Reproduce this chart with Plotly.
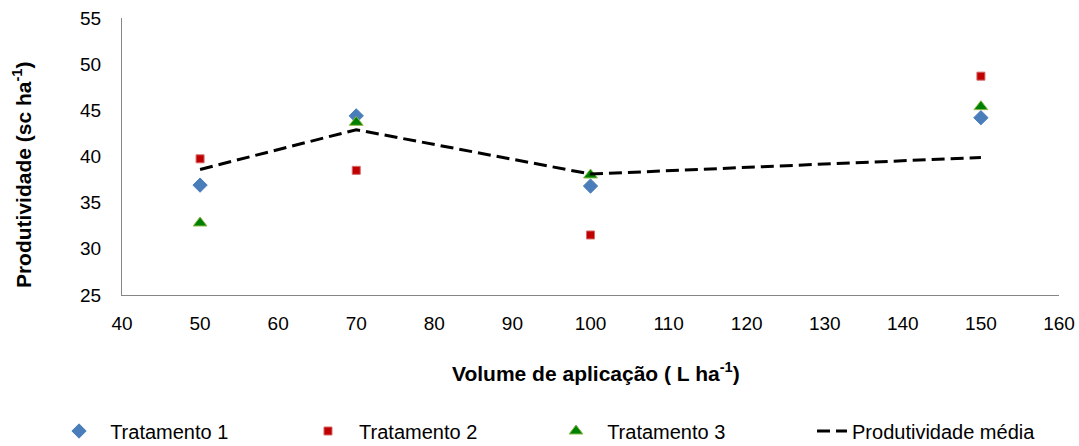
import plotly.graph_objects as go

volumes = [50, 70, 100, 150]
trat1 = [36.9, 44.4, 36.8, 44.2]
trat2 = [39.75, 38.5, 31.5, 48.7]
trat3 = [32.8, 43.7, 38.0, 45.4]
media = [38.6, 42.9, 38.1, 39.9]

font_family = "Liberation Sans, Arial, sans-serif"
legend_font = dict(family=font_family, size=20, color="black")
pad = "\u00a0\u00a0"

fig = go.Figure()
fig.add_trace(go.Scatter(x=volumes, y=trat1, mode="markers", name=pad + "Tratamento 1", legend="legend",
                         marker=dict(symbol="diamond", size=11, color="#4A7EBB",
                                     line=dict(color="#4A7EBB", width=1))))
fig.add_trace(go.Scatter(x=volumes, y=trat2, mode="markers", name=pad + "Tratamento 2", legend="legend2",
                         marker=dict(symbol="square", size=8, color="#C00000",
                                     line=dict(color="#D46A6A", width=1))))
fig.add_trace(go.Scatter(x=volumes, y=trat3, mode="markers", name=pad + "Tratamento 3", legend="legend3",
                         marker=dict(symbol="triangle-up", size=12, color="#008000",
                                     line=dict(color="#8DB84A", width=1))))
fig.add_trace(go.Scatter(x=volumes, y=media, mode="lines", name="Produtividade média", legend="legend4",
                         line=dict(color="black", width=3, dash="13px,6px")))

leg_common = dict(orientation="h", y=-0.491, yanchor="middle", xanchor="left",
                  font=legend_font, bgcolor="rgba(0,0,0,0)")

fig.update_layout(
    width=1079, height=446,
    margin=dict(l=122, r=20, t=18, b=151, autoexpand=False),
    paper_bgcolor="white", plot_bgcolor="white",
    font=dict(family=font_family, size=19, color="black"),
    showlegend=True,
    legend=dict(x=-0.0672, **leg_common),
    legend2=dict(x=0.1985, **leg_common),
    legend3=dict(x=0.4632, **leg_common),
    legend4=dict(x=0.7364, **leg_common),
    xaxis=dict(range=[40, 160], tickmode="linear", tick0=40, dtick=10,
               showgrid=False, zeroline=False, showline=True, linecolor="#868686",
               linewidth=1, ticks="outside", ticklen=11, tickcolor="rgba(0,0,0,0)",
               tickfont=dict(size=19)),
    yaxis=dict(range=[25, 55], tickmode="linear", tick0=25, dtick=5,
               showgrid=False, zeroline=False, showline=True, linecolor="#868686",
               linewidth=1, ticks="outside", ticklen=16, tickcolor="rgba(0,0,0,0)",
               tickfont=dict(size=19)),
    annotations=[
        dict(text="<b>Produtividade (sc ha<sup>-1</sup>)</b>", textangle=-90,
             xref="paper", yref="paper", x=-0.1067, y=0.433,
             xanchor="center", yanchor="middle", showarrow=False,
             font=dict(size=21, family=font_family, color="black")),
        dict(text="<b>Volume de aplicação ( L ha<sup>-1</sup>)</b>",
             xref="paper", yref="paper", x=0.5059, y=-0.278,
             xanchor="center", yanchor="middle", showarrow=False,
             font=dict(size=21, family=font_family, color="black")),
    ],
)

fig.write_html("out.html")
